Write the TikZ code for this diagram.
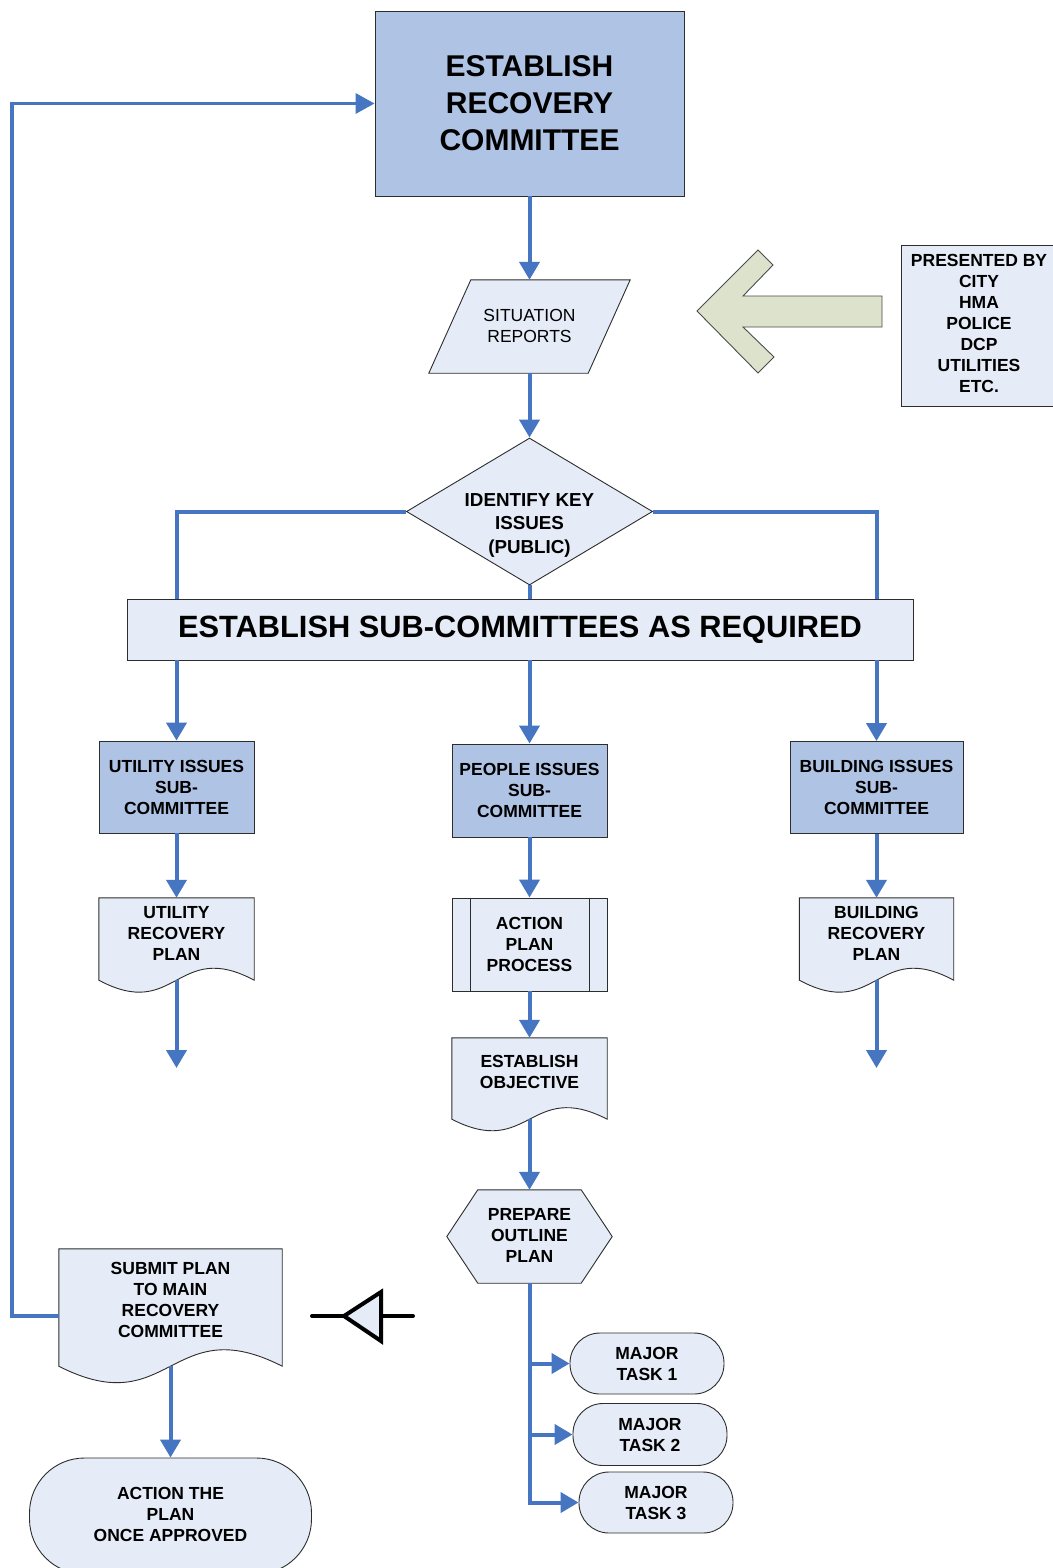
\documentclass[tikz,border=0pt]{standalone}
\usepackage{fontspec}
\setmainfont{Liberation Sans}
\usetikzlibrary{arrows.meta,shapes.geometric,calc}
\definecolor{darkfill}{RGB}{175,195,228}
\definecolor{lightfill}{RGB}{229,236,247}
\definecolor{conblue}{RGB}{70,117,194}
\definecolor{olivefill}{RGB}{221,226,204}
\definecolor{edgegray}{RGB}{45,45,45}
\newcommand{\docout}[2]{\filldraw[shp, fill=lightfill] (#1.north west) -- (#1.north east) -- (#1.south east) .. controls ($(#1.south)+(0,-#2)$) and ($(#1.south)+(0,#2)$) .. (#1.south west) -- cycle;}
\begin{document}
\begin{tikzpicture}[x=1pt,y=-1pt,
  shp/.style={draw=edgegray, line width=0.9pt},
  dbox/.style={shp, fill=darkfill, rectangle, inner sep=0pt},
  lbox/.style={shp, fill=lightfill, rectangle, inner sep=0pt},
  ghost/.style={rectangle, inner sep=0pt, draw=none},
  txt/.style={align=center, inner sep=0pt, font=\fontsize{17.5}{21}\selectfont\bfseries},
  conn/.style={draw=conblue, line width=4pt, -{Triangle[width=20pt,length=18pt]}},
  plainline/.style={draw=conblue, line width=4pt},
  symline/.style={draw=black, line width=4pt, line cap=round, line join=miter},
]
\useasboundingbox (0,0) rectangle (1052,1568);
\fill[white] (0,0) rectangle (1052,1568);

% top box
\node[dbox, minimum width=309pt, minimum height=185pt, align=center,
      font=\fontsize{30}{37}\selectfont\bfseries] (top) at (529.5,103.5) {ESTABLISH\\RECOVERY\\COMMITTEE};

% situation reports (parallelogram)
\node[ghost, minimum width=201pt, minimum height=93pt] (sr) at (529.5,326.5) {};
\filldraw[shp, fill=lightfill] ($(sr.north west)+(42,0)$) -- (sr.north east) -- ($(sr.south east)+(-42,0)$) -- (sr.south west) -- cycle;
\node[align=center, inner sep=0pt, font=\fontsize{17.5}{21}\selectfont] (srt) at (529.5,325.5) {SITUATION\\REPORTS};

% green arrow
\filldraw[draw=black!70, line width=0.9pt, fill=olivefill] (697,311) -- (758,250) -- (773,265) -- (743,296) -- (882,296) -- (882,327) -- (743,327) -- (774,357) -- (758,373) -- cycle;

% presented by
\node[lbox, minimum width=156pt, minimum height=161pt] (pres) at (979,325.5) {};
\node[txt] (prest) at (979,323) {PRESENTED BY\\CITY\\HMA\\POLICE\\DCP\\UTILITIES\\ETC.};

% diamond
\node[shp, fill=lightfill, diamond, minimum width=246pt, minimum height=147pt, inner sep=0pt] (d) at (529.5,511.5) {};
\node[align=center, inner sep=0pt, font=\fontsize{18.8}{23.5}\selectfont\bfseries] (dt) at (529.5,525) {IDENTIFY KEY\\ISSUES\\(PUBLIC)};

% banner
\node[lbox, minimum width=786pt, minimum height=61pt, font=\fontsize{30.8}{36}\selectfont\bfseries] (ban) at (520,629.5) {ESTABLISH SUB-COMMITTEES AS REQUIRED};

% sub-committees
\node[dbox, txt, minimum width=155pt, minimum height=92pt] (ub) at (176.5,787) {UTILITY ISSUES\\SUB-\\COMMITTEE};
\node[dbox, txt, minimum width=155pt, minimum height=93pt] (pb) at (529.5,790.5) {PEOPLE ISSUES\\SUB-\\COMMITTEE};
\node[dbox, txt, minimum width=173pt, minimum height=92pt] (bb) at (876.5,787.5) {BUILDING ISSUES\\SUB-\\COMMITTEE};

% utility recovery plan doc
\node[ghost, minimum width=155pt, minimum height=82pt] (ud) at (176.5,939) {};
\docout{ud}{41.5}
\node[txt] (udt) at (176.5,933) {UTILITY\\RECOVERY\\PLAN};
\coordinate (ue) at (176.5,1068);

% building recovery plan doc
\node[ghost, minimum width=154pt, minimum height=82pt] (bd) at (876.5,939) {};
\docout{bd}{41.5}
\node[txt] (bdt) at (876.5,933) {BUILDING\\RECOVERY\\PLAN};
\coordinate (be) at (876.5,1068);

% action plan process
\node[lbox, txt, minimum width=155pt, minimum height=93pt] (ap) at (529.5,944.5) {ACTION\\PLAN\\PROCESS};
\draw[shp] ($(ap.north west)+(18.5,0)$) -- ($(ap.south west)+(18.5,0)$);
\draw[shp] ($(ap.north east)+(-18.5,0)$) -- ($(ap.south east)+(-18.5,0)$);

% establish objective doc
\node[ghost, minimum width=155pt, minimum height=81pt] (eo) at (529.5,1078.5) {};
\docout{eo}{40}
\node[txt] (eot) at (529.5,1071.5) {ESTABLISH\\OBJECTIVE};

% prepare outline plan hexagon
\node[ghost, minimum width=165pt, minimum height=93pt] (po) at (529.5,1236.5) {};
\filldraw[shp, fill=lightfill] (po.west) -- ($(po.north west)+(31,0)$) -- ($(po.north east)+(-31,0)$) -- (po.east) -- ($(po.south east)+(-31,0)$) -- ($(po.south west)+(31,0)$) -- cycle;
\node[txt] (pot) at (529.5,1235) {PREPARE\\OUTLINE\\PLAN};

% major tasks
\node[lbox, txt, rounded corners=30pt, minimum width=154pt, minimum height=61pt] (t1) at (647,1363.5) {MAJOR\\TASK 1};
\node[lbox, txt, rounded corners=30pt, minimum width=154pt, minimum height=62pt] (t2) at (650,1434.5) {MAJOR\\TASK 2};
\node[lbox, txt, rounded corners=30pt, minimum width=154pt, minimum height=61pt] (t3) at (656,1502.5) {MAJOR\\TASK 3};

% submit plan doc
\node[ghost, minimum width=223pt, minimum height=117pt] (sp) at (170.5,1307.5) {};
\docout{sp}{57}
\node[txt] (spt) at (170.5,1299.5) {SUBMIT PLAN\\TO MAIN\\RECOVERY\\COMMITTEE};

% action the plan (runs off the bottom edge)
\node[lbox, rounded corners=55pt, minimum width=282pt, minimum height=116pt] (atp) at (170.5,1516) {};
\node[txt] (atpt) at (170.5,1514) {ACTION THE\\PLAN\\ONCE APPROVED};

% merge symbol
\draw[symline] (312,1316) -- (344,1316);
\draw[symline, fill=lightfill, line cap=butt] (344,1316) -- (381,1292) -- (381,1341) -- cycle;
\draw[symline] (381,1316) -- (413,1316);

% connectors
\draw[conn] (top) -- (sr);
\draw[conn] (sr) -- (d);
\draw[plainline] (d.west) -| (ub |- ban.north);
\draw[plainline] (d.east) -| (bb |- ban.north);
\draw[plainline] (d.south) -- (d |- ban.north);
\draw[conn] (ban.south -| ub) -- (ub);
\draw[conn] (ban.south -| pb) -- (pb);
\draw[conn] (ban.south -| bb) -- (bb);
\draw[conn] (ub) -- (ud);
\draw[conn] (pb) -- (ap);
\draw[conn] (bb) -- (bd);
\draw[conn] (ud.south) -- (ue);
\draw[conn] (bd.south) -- (be);
\draw[conn] (ap) -- (eo);
\draw[conn] (eo.south) -- (po.north);
\draw[conn] (po.south) |- (t3.west);
\draw[conn] (po.south |- t1.west) -- (t1.west);
\draw[conn] (po.south |- t2.west) -- (t2.west);
\draw[conn] (sp.south) -- (atp.north);
\draw[draw=conblue, line width=3.5pt, -{Triangle[width=20pt,length=19pt]}] ([yshift=-8.5pt]sp.west) -- ++(-47,0) |- (top.west);
\end{tikzpicture}
\end{document}
